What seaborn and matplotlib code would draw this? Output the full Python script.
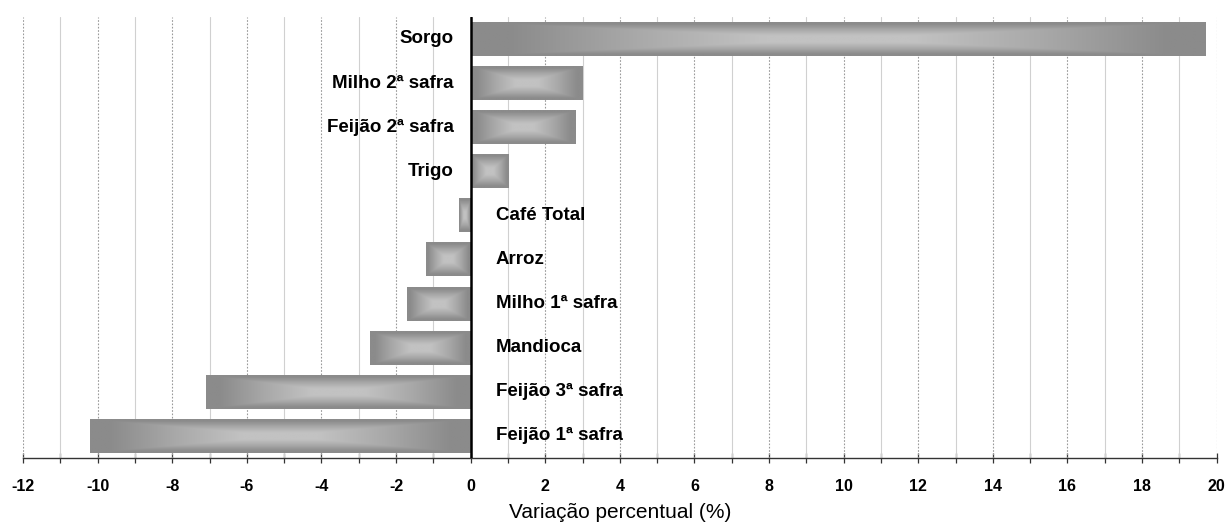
import numpy as np
import pandas as pd
import matplotlib
matplotlib.use("Agg")
import matplotlib.pyplot as plt
import seaborn as sns
from matplotlib.colors import LinearSegmentedColormap

categorias = ["Sorgo", "Milho 2ª safra", "Feijão 2ª safra", "Trigo", "Café Total",
              "Arroz", "Milho 1ª safra", "Mandioca", "Feijão 3ª safra", "Feijão 1ª safra"]
variacao = [19.7, 3.0, 2.8, 1.0, -0.3, -1.2, -1.7, -2.7, -7.1, -10.2]
xticks = list(range(-12, 21, 2))

sns.set_theme(style="white")
plt.rcParams['font.family'] = ['Liberation Sans', 'DejaVu Sans']
plt.rcParams['text.color'] = 'black'
plt.rcParams['axes.labelcolor'] = 'black'
plt.rcParams['xtick.color'] = 'black'

df = pd.DataFrame({"cat": categorias, "val": variacao})

fig = plt.figure(figsize=(12.29, 5.27), dpi=100)
ax = fig.add_axes([0.0187, 0.131, 0.9713, 0.837])

sns.barplot(data=df, y="cat", x="val", orient="h", color="#8c8c8c", width=0.77,
            ax=ax, edgecolor="none", zorder=3)

# gradient fill on bars
cmap = LinearSegmentedColormap.from_list("g", ["#c2c2c2", "#a9a9a9", "#8b8b8b"])
n = 60
u = np.linspace(-1, 1, n * 4)
v = np.linspace(-1, 1, n)
U, V = np.meshgrid(u, v)
for p in list(ax.patches):
    x0, y0 = p.get_x(), p.get_y()
    w, h = p.get_width(), p.get_height()
    d = np.maximum(np.abs(U), np.abs(V))
    d = np.clip((d - 0.2) / 0.7, 0, 1)
    im = ax.imshow(d, cmap=cmap, vmin=0, vmax=1, aspect="auto",
                   extent=[min(x0, x0 + w), max(x0, x0 + w), y0 + h, y0],
                   zorder=4, interpolation="bilinear")
    im.set_clip_path(p)

ax.set_xlim(-12, 20)
ax.set_ylim(9.5, -0.5)

# grid lines
for xv in range(-12, 21):
    if xv == 0:
        continue
    if xv % 2 == 0:
        ax.axvline(xv, color="#9a9a9a", lw=0.8, ls=(0, (1.5, 1.5)), zorder=1)
    else:
        ax.axvline(xv, color="#d0d0d0", lw=0.8, zorder=1)
ax.axvline(0, color="black", lw=1.8, zorder=6)

# labels
for i, (c, val) in enumerate(zip(categorias, variacao)):
    if val > 0:
        ax.text(-0.45, i, c, ha="right", va="center", fontsize=13.5,
                fontweight="bold", color="black", zorder=7)
    else:
        ax.text(0.68, i, c, ha="left", va="center", fontsize=13.5,
                fontweight="bold", color="black", zorder=7)

ax.set_xticks(xticks)
ax.set_xticklabels([str(t) for t in xticks], fontweight="bold", fontsize=11.5,
                   color="black")
ax.set_xticks(range(-12, 21), minor=True)
ax.tick_params(axis="x", which="both", direction="inout", length=7, width=0.9,
               color="#333333", bottom=True, pad=12)
ax.set_yticks([])
ax.set_ylabel("")
ax.set_xlabel("Variação percentual (%)", fontsize=15, labelpad=6, color="black")
for s in ["top", "right", "left"]:
    ax.spines[s].set_visible(False)
ax.spines["bottom"].set_color("#333333")
ax.spines["bottom"].set_linewidth(1.0)

fig.savefig("out.png", dpi=100)
